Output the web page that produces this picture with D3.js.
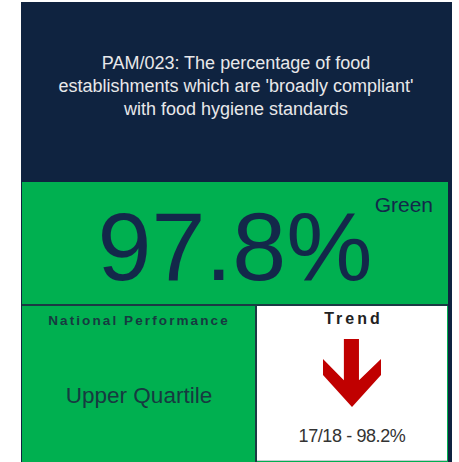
<!DOCTYPE html>
<html>
<head>
<meta charset="utf-8">
<script src="https://cdn.jsdelivr.net/npm/d3@7"></script>
<style>
  body { margin: 0; background: #fff; }
  svg text { font-family: "Liberation Sans", Arial, sans-serif; }
</style>
</head>
<body>
<div id="card"></div>
<script>
// KPI card data
const titleLines = [
  "PAM/023: The percentage of food",
  "establishments which are 'broadly compliant'",
  "with food hygiene standards"
];
const currentValue = [97.8];
const previousValue = [98.2];
const previousPeriod = ["17/18"];
const ragStatus = ["Green"];
const nationalLabels = ["National Performance", "Upper Quartile"];
const trendLabels = ["Trend"];

const width = 459, height = 462;

const svg = d3.select('#card').append('svg')
  .attr('width', width)
  .attr('height', height);

// layout scale (card fraction -> pixels)
const x = d3.scaleLinear().domain([0, 1]).range([21, 452]);
const y = d3.scaleLinear().domain([0, 1]).range([2, 462]);

// navy header/background
svg.append('rect')
  .attr('x', x(0)).attr('y', y(0))
  .attr('width', x(1) - x(0)).attr('height', y(1) - y(0))
  .attr('fill', '#0f2340');

titleLines.forEach((t, i) => {
  svg.append('text')
    .attr('x', 236)
    .attr('y', 69 + i * 23)
    .attr('text-anchor', 'middle')
    .attr('fill', '#e8e8ea')
    .attr('font-size', 18)
    .text(t);
});

// green value panel
svg.append('rect')
  .attr('x', 22).attr('y', 182)
  .attr('width', 426).attr('height', 280)
  .attr('fill', '#00b050');

svg.append('text')
  .attr('x', 235).attr('y', 280)
  .attr('text-anchor', 'middle')
  .attr('fill', '#13284a')
  .attr('font-size', 97)
  .text(d3.format('.1f')(currentValue[0]) + '%');

svg.append('text')
  .attr('x', 433).attr('y', 212)
  .attr('text-anchor', 'end')
  .attr('fill', '#13284a')
  .attr('font-size', 21)
  .text(ragStatus[0]);

// divider between value and bottom row
svg.append('line')
  .attr('x1', 22).attr('x2', 448)
  .attr('y1', 305).attr('y2', 305)
  .attr('stroke', '#1b3a44').attr('stroke-width', 2);

// trend cell (white)
svg.append('rect')
  .attr('x', 257).attr('y', 306)
  .attr('width', 190).attr('height', 154)
  .attr('fill', '#ffffff');
svg.append('line')
  .attr('x1', 256).attr('x2', 256)
  .attr('y1', 305).attr('y2', 462)
  .attr('stroke', '#1b3a44').attr('stroke-width', 2);
svg.append('line')
  .attr('x1', 257).attr('x2', 447)
  .attr('y1', 460.5).attr('y2', 460.5)
  .attr('stroke', '#c8cbd0').attr('stroke-width', 1);

// national performance cell
const natX = (22 + 256) / 2;
svg.append('text')
  .attr('x', natX).attr('y', 325)
  .attr('text-anchor', 'middle')
  .attr('fill', '#173a40')
  .attr('font-size', 13.5)
  .attr('font-weight', 'bold')
  .attr('letter-spacing', 2.1)
  .text(nationalLabels[0]);

svg.append('text')
  .attr('x', natX).attr('y', 403)
  .attr('text-anchor', 'middle')
  .attr('fill', '#173a40')
  .attr('font-size', 22.5)
  .text(nationalLabels[1]);

// trend cell
const trendX = 352;
svg.append('text')
  .attr('x', trendX + 1.5).attr('y', 324)
  .attr('text-anchor', 'middle')
  .attr('fill', '#222')
  .attr('font-size', 16)
  .attr('font-weight', 'bold')
  .attr('letter-spacing', 3)
  .text(trendLabels[0]);

// arrow shape in unit coords, pointing down; flipped if value went up
const goingDown = currentValue[0] < previousValue[0];
const ax = d3.scaleLinear().domain([-1, 1]).range([323, 381]);
const ay = d3.scaleLinear().domain([0, 1]).range(goingDown ? [339, 407] : [407, 339]);
const arrowShape = [
  [-0.28, 0], [0.24, 0], [0.24, 0.605], [1, 0.295], [1, 0.53],
  [0, 1], [-1, 0.53], [-1, 0.295], [-0.28, 0.605]
];
svg.append('path')
  .attr('d', d3.line().x(d => ax(d[0])).y(d => ay(d[1]))(arrowShape) + 'Z')
  .attr('fill', '#c00000');

svg.append('text')
  .attr('x', trendX).attr('y', 442)
  .attr('text-anchor', 'middle')
  .attr('fill', '#333')
  .attr('font-size', 18)
  .attr('letter-spacing', -0.4)
  .text(previousPeriod[0] + ' - ' + d3.format('.1f')(previousValue[0]) + '%');
</script>
</body>
</html>
